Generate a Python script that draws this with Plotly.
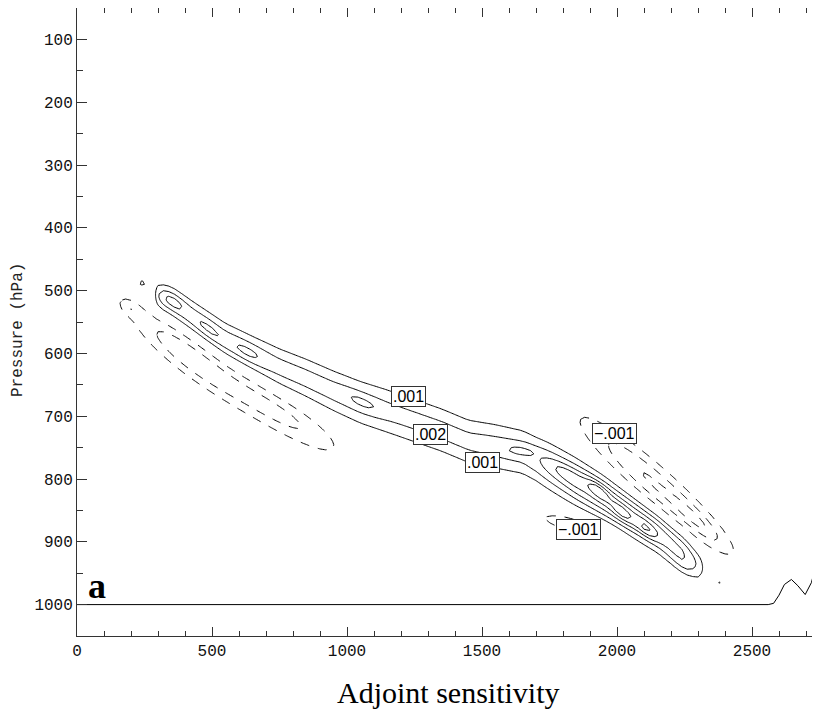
import numpy as np
import plotly.graph_objects as go

# ---------------- data ----------------
# main positive band: centre line, peak value and width (hPa) along x
ridge_x = [280, 305, 350, 450, 550, 650, 750, 850, 950, 1050, 1150, 1250, 1350, 1450,
           1550, 1650, 1700, 1750, 1850, 1950, 2050, 2150, 2250, 2300, 2340]
ridge_p = [507, 510, 518, 548, 578, 600, 622, 640, 660, 678, 692, 707, 722, 740,
           748, 757, 768, 780, 805, 830, 858, 885, 918, 935, 945]
ridge_amp = [0, .0022, .0026, .0025, .0025, .0025, .0024, .0024, .0024, .0024, .0023, .0023,
             .0023, .0023, .0024, .0025, .0028, .0033, .0041, .0043, .0041, .0037, .0030, .0018, 0]
ridge_w = [14, 16, 17, 18, 19, 20, 22, 23, 24, 25, 26, 26, 26, 26,
           26, 25, 24, 24, 23, 22, 21, 20, 19, 16, 14]

# local maxima / minima (centre x, centre p, value, along-band and across-band size, tilt)
blob_x = [355, 487, 631, 1059, 1638, 243, 1815, 1930, 2018, 2107, 2240,
          400, 740, 200, 2140, 2300, 1830, 2376]
blob_p = [517, 562, 598, 678, 755, 488, 792, 818, 853, 879, 935,
          600, 694, 527, 808, 868, 872, 965]
blob_amp = [.0010, .0008, .0008, .0009, .0009, .0013, .0010, .0019, .0017, .0016, .0008,
            -.0027, -.0024, -.0013, -.0032, -.0013, -.0016, -.0012]
blob_sx = [30, 40, 45, 50, 40, 20, 40, 30, 28, 27, 40,
           140, 170, 30, 190, 60, 110, 15]
blob_sp = [8, 9, 9, 8, 6, 5, 8, 8, 8, 8, 10,
           22, 22, 9, 25, 11, 12, 4]
blob_tilt = [.22, .30, .22, .18, .05, 0, .25, .30, .30, .30, .30,
             .30, .25, .2, .36, .36, .10, 0]

# ground line (1000 hPa) with topography at the right
topo_x = [0, 2560, 2580, 2600, 2620, 2646, 2670, 2697, 2720, 2745, 2750]
topo_p = [1000, 1000, 998, 985, 968, 960, 970, 984, 965, 925, 915]

# contour labels
lab_x = [1226, 1311, 1500, 1989, 1859]
lab_p = [669, 729, 774, 728, 880]
lab_t = [".001", ".002", ".001", "\u2212.001", "\u2212.001"]

x_ticks = [0, 500, 1000, 1500, 2000, 2500]
p_ticks = [100, 200, 300, 400, 500, 600, 700, 800, 900, 1000]

# ---------------- field on a grid ----------------
gx = np.arange(0, 2751, 20.0)
gp = np.arange(400, 1051, 5.0)
X, P = np.meshgrid(gx, gp)
pc = np.interp(gx, ridge_x, ridge_p)
amp = np.interp(gx, ridge_x, ridge_amp)
wid = np.interp(gx, ridge_x, ridge_w)
Z = amp[None, :] * np.exp(-0.5 * ((P - pc[None, :]) / wid[None, :]) ** 2)
for bx, bp, ba, sx, sp, tl in zip(blob_x, blob_p, blob_amp, blob_sx, blob_sp, blob_tilt):
    dx = X - bx
    dq = (P - bp) - tl * dx
    Z = Z + ba * np.exp(-0.5 * ((dx / sx) ** 2 + (dq / sp) ** 2))

fig = go.Figure()
fig.add_trace(go.Contour(
    x=gx, y=gp, z=Z, showscale=False, hoverinfo="skip",
    contours=dict(start=0.001, end=0.0105, size=0.001, coloring="none"),
    line=dict(color="black", width=1, smoothing=0)))
fig.add_trace(go.Contour(
    x=gx, y=gp, z=Z, showscale=False, hoverinfo="skip",
    contours=dict(start=-0.0101, end=-0.00095, size=0.001, coloring="none"),
    line=dict(color="black", width=1, dash="dash", smoothing=0)))
fig.add_trace(go.Scatter(x=topo_x, y=topo_p, mode="lines",
                         line=dict(color="black", width=1), hoverinfo="skip"))

for lx, lp, lt in zip(lab_x, lab_p, lab_t):
    fig.add_annotation(x=lx, y=lp, text=lt, showarrow=False,
                       font=dict(family="Liberation Sans", size=16, color="black"),
                       bgcolor="white", bordercolor="#333", borderwidth=1, borderpad=1)

# the page has an 8px body margin: the figure is 804x703, so the page is exactly 820x719
W, H = 804, 703
L, T, R, B = 69, 0, 0, 75
PW, PH = W - L - R, H - T - B
XMAX = PW / 0.27  # 0.27 px per unit, as in the reference

fig.add_annotation(x=0.027, y=0.08, xref="paper", yref="paper", text="<b>a</b>",
                   xanchor="center", yanchor="middle", showarrow=False,
                   font=dict(family="Liberation Serif", size=36, color="black"))
fig.add_annotation(x=(440 - L) / PW, y=(PH - H + T) / PH, xref="paper", yref="paper",
                   text="Adjoint sensitivity", showarrow=False,
                   xanchor="center", yanchor="bottom",
                   font=dict(family="Liberation Serif", size=30, color="black"))
fig.add_annotation(x=(10 - L) / PW, y=(PH - 322 + T) / PH, xref="paper", yref="paper",
                   text="Pressure (hPa)", showarrow=False, textangle=-90,
                   xanchor="center", yanchor="middle",
                   font=dict(family="Liberation Mono", size=16, color="#222"))

axfont = dict(family="Liberation Mono", size=16, color="#111")
fig.update_xaxes(range=[0, XMAX], tickvals=x_ticks, ticks="inside", ticklen=9, tickwidth=1,
                 tickcolor="#333", showline=True, linecolor="#333", linewidth=1, mirror="ticks",
                 showgrid=False, zeroline=False, tickfont=axfont, automargin=False,
                 minor=dict(dtick=100, ticks="inside", ticklen=5, tickcolor="#333", showgrid=False))
fig.update_yaxes(range=[1050, 50], tickvals=p_ticks, ticks="inside", ticklen=10, tickwidth=1,
                 tickcolor="#333", showline=True, linecolor="#333", linewidth=1, mirror=False,
                 showgrid=False, zeroline=False, tickfont=axfont, automargin=False,
                 minor=dict(dtick=50, ticks="inside", ticklen=6, tickcolor="#333", showgrid=False))
fig.update_layout(width=W, height=H, margin=dict(l=L, r=R, t=T, b=B, pad=0, autoexpand=False),
                  plot_bgcolor="white", paper_bgcolor="white", showlegend=False)
fig.write_html("out.html")
